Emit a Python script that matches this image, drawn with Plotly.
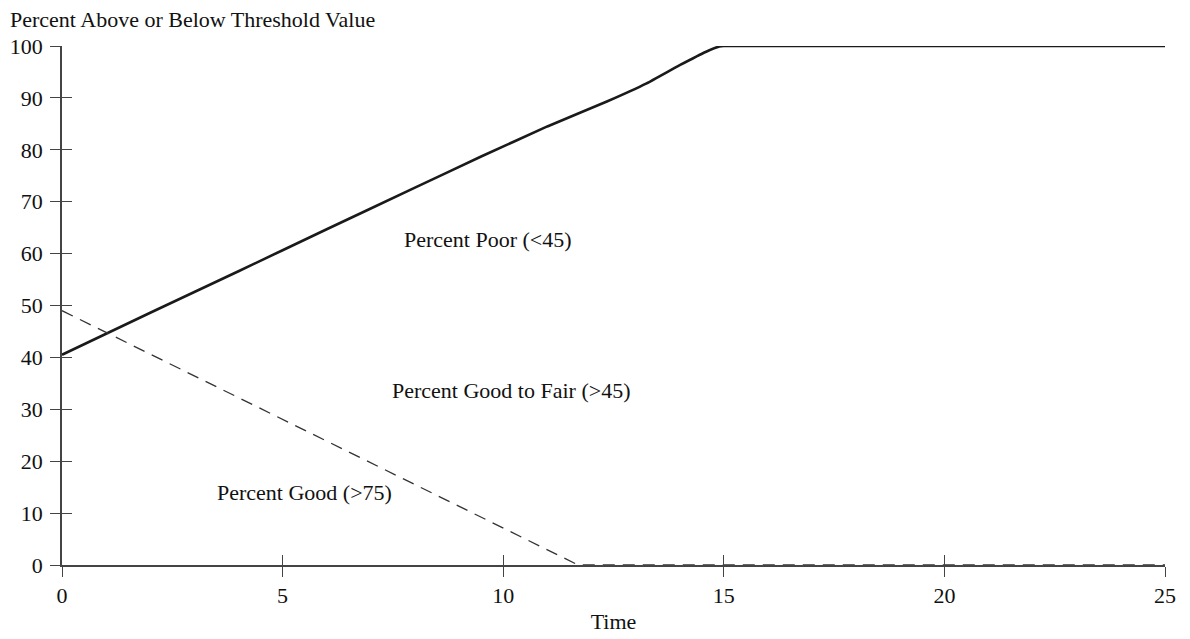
import plotly.graph_objects as go

# Data
poor_x = [0, 2, 4, 6, 8, 9.5, 11.0, 12.35, 13.25, 14.0, 14.6, 14.9, 15, 25]
poor_y = [40.5, 48.6, 56.6, 64.7, 72.7, 78.7, 84.5, 89.3, 92.8, 96.3, 98.9, 99.9, 100, 100]

good_x = [0, 11.7, 25]
good_y = [49, 0, 0]

labels = ["Percent Poor (<45)", "Percent Good to Fair (>45)", "Percent Good (>75)"]
label_x = [9.66, 10.18, 5.49]
label_y = [62.8, 33.7, 13.9]

x_ticks = [0, 5, 10, 15, 20, 25]
y_ticks = [0, 10, 20, 30, 40, 50, 60, 70, 80, 90, 100]

FONT = "Liberation Serif"
FS = 22

fig = go.Figure()
fig.add_trace(go.Scatter(x=poor_x, y=poor_y, mode="lines",
                         line=dict(color="#1a1a1a", width=2.6, shape="spline", smoothing=0.3),
                         showlegend=False, hoverinfo="skip"))
fig.add_trace(go.Scatter(x=good_x, y=good_y, mode="lines",
                         line=dict(color="#333333", width=1.3, dash="12px,8px"),
                         showlegend=False, hoverinfo="skip"))
# dummy trace to activate secondary axes for inside ticks
fig.add_trace(go.Scatter(x=[0], y=[0], xaxis="x2", yaxis="y2", mode="markers",
                         marker=dict(opacity=0), showlegend=False, hoverinfo="skip"))

for t, xx, yy in zip(labels, label_x, label_y):
    fig.add_annotation(x=xx, y=yy, text=t, showarrow=False,
                       font=dict(family=FONT, size=FS, color="#111111"))

axis_common = dict(showgrid=False, zeroline=False, linecolor="#444444", linewidth=1.6,
                   tickcolor="#444444", tickwidth=1.3, ticklen=10, automargin=False)

fig.update_layout(
    width=1190, height=639,
    margin=dict(l=54, r=33, t=38, b=82),
    plot_bgcolor="white", paper_bgcolor="white",
    font=dict(family=FONT, size=FS, color="#111111"),
    xaxis=dict(range=[0, 25], tickvals=x_ticks, ticks="outside", showline=True,
               title=dict(text="Time", standoff=6, font=dict(family=FONT, size=FS)),
               tickfont=dict(family=FONT, size=FS), **axis_common),
    yaxis=dict(range=[0, 100], tickvals=y_ticks, ticks="outside", showline=True,
               ticklabelstandoff=3,
               tickfont=dict(family=FONT, size=FS), **axis_common),
    xaxis2=dict(range=[0, 25], tickvals=x_ticks, ticks="inside", showline=False,
                showticklabels=False, overlaying="x", anchor="y2", side="bottom", **axis_common),
    yaxis2=dict(range=[0, 100], tickvals=y_ticks, ticks="inside", showline=False,
                showticklabels=False, overlaying="y", anchor="x2", side="left", **axis_common),
)
fig.add_annotation(xref="paper", yref="paper", x=-54/1103, y=1 + 26/519, xanchor="left", yanchor="middle",
                   text="Percent Above or Below Threshold Value", showarrow=False,
                   font=dict(family=FONT, size=FS, color="#111111"))
fig.write_html("out.html")
